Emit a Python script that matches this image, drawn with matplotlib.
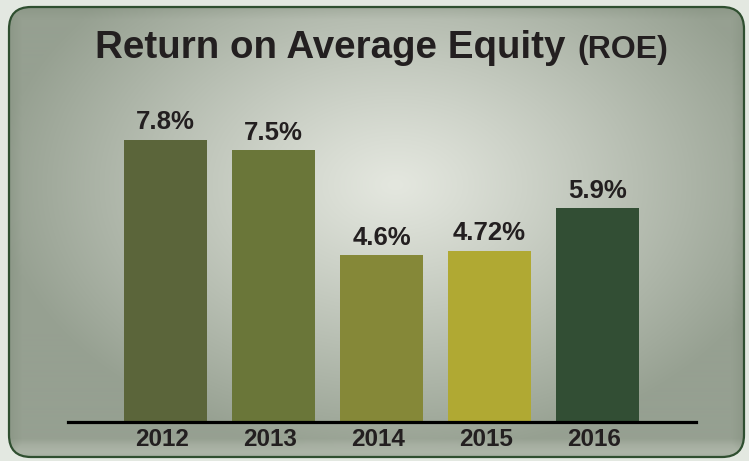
import numpy as np
import matplotlib
matplotlib.use('Agg')
import matplotlib.pyplot as plt
import matplotlib.transforms as mtransforms
from matplotlib.patches import FancyBboxPatch

# Datos del gráfico
years = ['2012', '2013', '2014', '2015', '2016']
roe = [7.8, 7.5, 4.6, 4.72, 5.9]
roe_labels = ['7.8%', '7.5%', '4.6%', '4.72%', '5.9%']
bar_colors = ['#5b653a', '#6a7639', '#858838', '#b0a933', '#324e34']

W, H = 749, 461
plt.rcParams['font.family'] = ['Liberation Sans', 'DejaVu Sans']

fig = plt.figure(figsize=(W / 100, H / 100), dpi=100)
fig.patch.set_facecolor('#e3e8e1')

# Fondo con degradado radial
ax_bg = fig.add_axes([0, 0, 1, 1])
ax_bg.set_xlim(0, W)
ax_bg.set_ylim(H, 0)
ax_bg.axis('off')

yy, xx = np.mgrid[0:H, 0:W]
d = np.sqrt(((xx - 395) / 400.0) ** 2 + ((yy - 185) / 270.0) ** 2)
f = np.clip(d, 0, 1) ** 1.1
center = np.array([228, 231, 223]) / 255.0
edge = np.array([150, 160, 145]) / 255.0
img = center * (1 - f[..., None]) + edge * f[..., None]
# franja clara abajo
fb = np.clip((yy - 438) / 14.0, 0, 1) * 0.55
img = img * (1 - fb[..., None]) + np.array([210, 215, 205]) / 255.0 * fb[..., None]
# sombra en los bordes
fe = np.clip(1 - np.minimum.reduce([xx - 8, W - 4 - xx, yy - 6, H - 3 - yy]) / 14.0, 0, 1) * 0.25
img = img * (1 - fe[..., None]) + np.array([110, 125, 105]) / 255.0 * fe[..., None]

frame = FancyBboxPatch((9, 7), W - 14, H - 11,
                       boxstyle='round,pad=0,rounding_size=22',
                       facecolor='none', edgecolor='#2f4f30', linewidth=1.6,
                       transform=ax_bg.transData, zorder=3)
im = ax_bg.imshow(img, extent=(0, W, H, 0), origin='upper', aspect='auto', zorder=1)
ax_bg.add_patch(frame)
im.set_clip_path(frame)

# Título
fig.text(95 / W, 1 - 58 / H, 'Return on Average Equity', fontsize=27.7,
         fontweight='bold', color='#231f20', ha='left', va='baseline')
fig.text(577 / W, 1 - 58 / H, '(ROE)', fontsize=23, fontweight='bold',
         color='#231f20', ha='left', va='baseline')

# Gráfico de barras
ax = fig.add_axes([68 / W, 39 / H, 628 / W, 322 / H])
ax.patch.set_alpha(0)
x = np.arange(len(years))
ax.bar(x, roe, width=0.77, color=bar_colors, zorder=2)
for xi, v, lab in zip(x, roe, roe_labels):
    ax.text(xi, v + 0.3, lab, ha='center', va='baseline', fontsize=18.5,
            fontweight='bold', color='#231f20')

ax.set_xlim(-0.903, 4.912)
ax.set_ylim(0, 322 / 36.2)
ax.set_xticks(x)
ax.set_xticklabels(years, fontsize=17.5, fontweight='bold', color='#231f20')
ax.tick_params(axis='x', length=0, pad=4.5)
shift = mtransforms.ScaledTranslation(-3 / 100, 0, fig.dpi_scale_trans)
for lbl in ax.get_xticklabels():
    lbl.set_transform(lbl.get_transform() + shift)
ax.set_yticks([])
for s in ['top', 'left', 'right']:
    ax.spines[s].set_visible(False)
ax.spines['bottom'].set_linewidth(2.3)
ax.spines['bottom'].set_color('black')
ax.spines['bottom'].set_zorder(3)

fig.savefig('out.png', dpi=100)
